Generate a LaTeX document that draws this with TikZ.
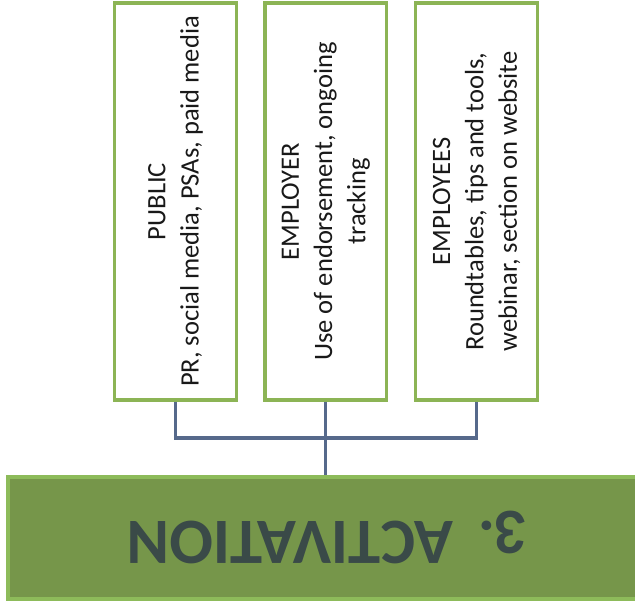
\documentclass[tikz,border=0pt]{standalone}
\usepackage{fontspec}
\setmainfont{Carlito}
\usepackage{tikz}

\definecolor{boxgreen}{HTML}{8CB455}
\definecolor{barfill}{HTML}{76964A}
\definecolor{barline}{HTML}{8DBB5A}
\definecolor{linkblue}{HTML}{56698B}
\definecolor{titlegray}{HTML}{3A4A48}

\begin{document}
\begin{tikzpicture}[x=0.75pt,y=0.75pt,yscale=-1,xscale=1,
  panel/.style={draw=boxgreen,line width=2.5pt,fill=white,minimum width=91.125pt,minimum height=297.75pt,inner sep=0pt},
  paneltext/.style={rotate=90,align=center,text=black!90,font=\fontsize{19.9pt}{25pt}\selectfont},
  link/.style={draw=linkblue,line width=2.5pt},
  banner/.style={draw=barline,fill=barfill,line width=2.5pt,minimum width=477.75pt,minimum height=91.5pt,inner sep=0pt},
  bannertext/.style={rotate=180,anchor=base,text=titlegray,font=\fontsize{48.5pt}{58pt}\selectfont\bfseries}]
\useasboundingbox (0,0) rectangle (635,607);

%Shape: Rectangle
\node[panel] (public) at (175.5,201.5) {};
%Shape: Rectangle
\node[panel] (employer) at (325.75,201.5) {};
%Shape: Rectangle
\node[panel] (employees) at (476.5,201.5) {};
%Shape: Rectangle
\node[banner] (activation) at (326.5,538) {};

% Text Node
\node[paneltext] (publictext) at (public.center) {PUBLIC\\PR, social media, PSAs, paid media};
% Text Node
\node[paneltext] (employertext) at (employer.center) {EMPLOYER\\Use of endorsement, ongoing\\tracking};
% Text Node
\node[paneltext] (employeestext) at (employees.center) {EMPLOYEES\\Roundtables, tips and tools,\\webinar, section on website};
% Text Node
\node[bannertext] (title) at (327.5,521.7) {\raisebox{-8pt}{3}.\hspace{0.37em}ACTIVATION};

%Connectors
\coordinate (hub) at (325.75,438);
\draw[link] (public.south) |- (hub) -| (employees.south);
\draw[link] (employer.south) -- (activation.north -| employer.south);
\end{tikzpicture}
\end{document}
